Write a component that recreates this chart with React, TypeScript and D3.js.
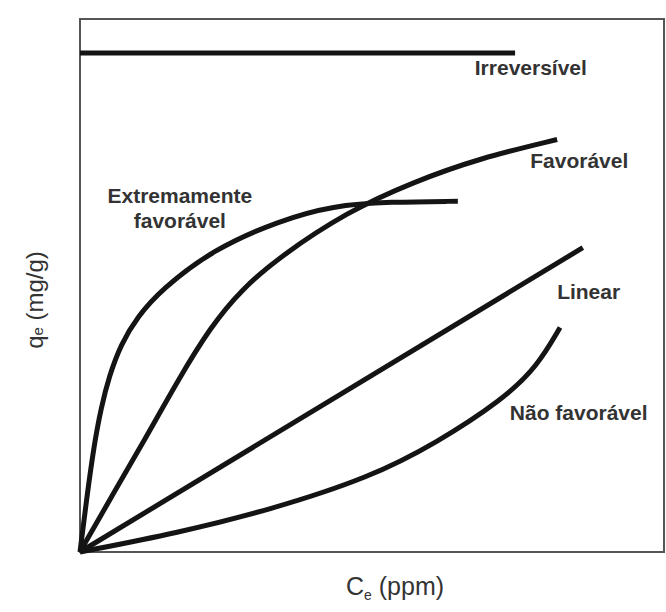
import { useEffect, useRef } from "react"
import * as d3 from "d3"

// isotherm shapes (x = Ce, y = qe, both 0..100)
const irreversivel: [number, number][] = [
  [0, 93.6],
  [74.5, 93.6],
]
const extremamente: [number, number][] = [
  [0, 0],
  [1.2, 10.5],
  [2.4, 20.0],
  [3.6, 27.0],
  [5.0, 33.0],
  [7.0, 39.0],
  [9.9, 44.2],
  [13.9, 49.2],
  [22.8, 56.8],
  [34.2, 62.2],
  [43.3, 65.0],
  [53.1, 65.7],
  [64.7, 65.8],
]
const favoravel: [number, number][] = [
  [0, 0],
  [5.5, 10.6],
  [11.1, 21.1],
  [16.8, 32.3],
  [22.4, 42.3],
  [27.6, 49.2],
  [34.2, 55.4],
  [45.7, 63.8],
  [57.0, 69.4],
  [68.5, 73.9],
  [81.7, 77.4],
]
const linear: [number, number][] = [
  [0, 0],
  [86.1, 57.1],
]
const naoFavoravel: [number, number][] = [
  [0, 0],
  [16.8, 3.6],
  [32.5, 7.9],
  [49.7, 14.0],
  [61.1, 20.5],
  [72.4, 28.6],
  [78.3, 34.8],
  [82.2, 42.1],
]

const series = [irreversivel, extremamente, favoravel, linear, naoFavoravel]

// label positions in data units
const labels = [
  { lines: ["Irreversível"], x: 67.6, y: 89.5, anchor: "start" },
  { lines: ["Favorável"], x: 77.1, y: 72.0, anchor: "start" },
  { lines: ["Extremamente", "favorável"], x: 17.1, y: 65.4, anchor: "middle" },
  { lines: ["Linear"], x: 81.7, y: 47.4, anchor: "start" },
  { lines: ["Não favorável"], x: 73.6, y: 24.8, anchor: "start" },
]

export default function App() {
  const svgRef = useRef(null)

  useEffect(() => {
    const width = 666
    const height = 612
    const left = 80
    const right = 664
    const top = 19
    const bottom = 552

    const svg = d3.select(svgRef.current).attr("width", width).attr("height", height)
    svg.selectAll("*").remove()

    const x = d3.scaleLinear().domain([0, 100]).range([left, right])
    const y = d3.scaleLinear().domain([0, 100]).range([bottom, top])

    svg.append("rect").attr("width", width).attr("height", height).attr("fill", "#fff")

    svg
      .append("rect")
      .attr("x", left)
      .attr("y", top)
      .attr("width", right - left)
      .attr("height", bottom - top)
      .attr("fill", "none")
      .attr("stroke", "#555")
      .attr("stroke-width", 2)

    const line = d3
      .line<[number, number]>()
      .x((d) => x(d[0]))
      .y((d) => y(d[1]))
      .curve(d3.curveBasis)

    svg
      .append("g")
      .selectAll("path")
      .data(series)
      .enter()
      .append("path")
      .attr("d", (d) => line(d))
      .attr("fill", "none")
      .attr("stroke", "#141414")
      .attr("stroke-width", 5)
      .attr("stroke-linejoin", "round")

    const font = "'Liberation Sans', Arial, sans-serif"

    const lab = svg
      .append("g")
      .selectAll("text")
      .data(labels)
      .enter()
      .append("text")
      .attr("x", (d) => x(d.x))
      .attr("y", (d) => y(d.y))
      .attr("text-anchor", (d) => d.anchor)
      .attr("font-family", font)
      .attr("font-weight", "bold")
      .attr("font-size", 21)
      .attr("fill", "#333")

    lab
      .selectAll("tspan")
      .data((d) => d.lines.map((t) => ({ t, x: x(d.x) })))
      .enter()
      .append("tspan")
      .attr("x", (d) => d.x)
      .attr("dy", (_, i) => (i === 0 ? 0 : 25))
      .text((d) => d.t)

    const xl = svg
      .append("text")
      .attr("x", 395)
      .attr("y", 595)
      .attr("text-anchor", "middle")
      .attr("font-family", font)
      .attr("font-size", 25)
      .attr("fill", "#333")
    xl.append("tspan").text("C")
    xl.append("tspan").attr("font-size", 14).attr("dy", 5).text("e")
    xl.append("tspan").attr("dy", -5).text(" (ppm)")

    const yl = svg
      .append("text")
      .attr("transform", "translate(43, 300) rotate(-90)")
      .attr("text-anchor", "middle")
      .attr("font-family", font)
      .attr("font-size", 24)
      .attr("fill", "#333")
    yl.append("tspan").text("q")
    yl.append("tspan").attr("font-size", 15).text("e")
    yl.append("tspan").text(" (mg/g)")
  }, [])

  return <svg ref={svgRef} style={{ position: "absolute", left: 0, top: 0 }}></svg>
}
